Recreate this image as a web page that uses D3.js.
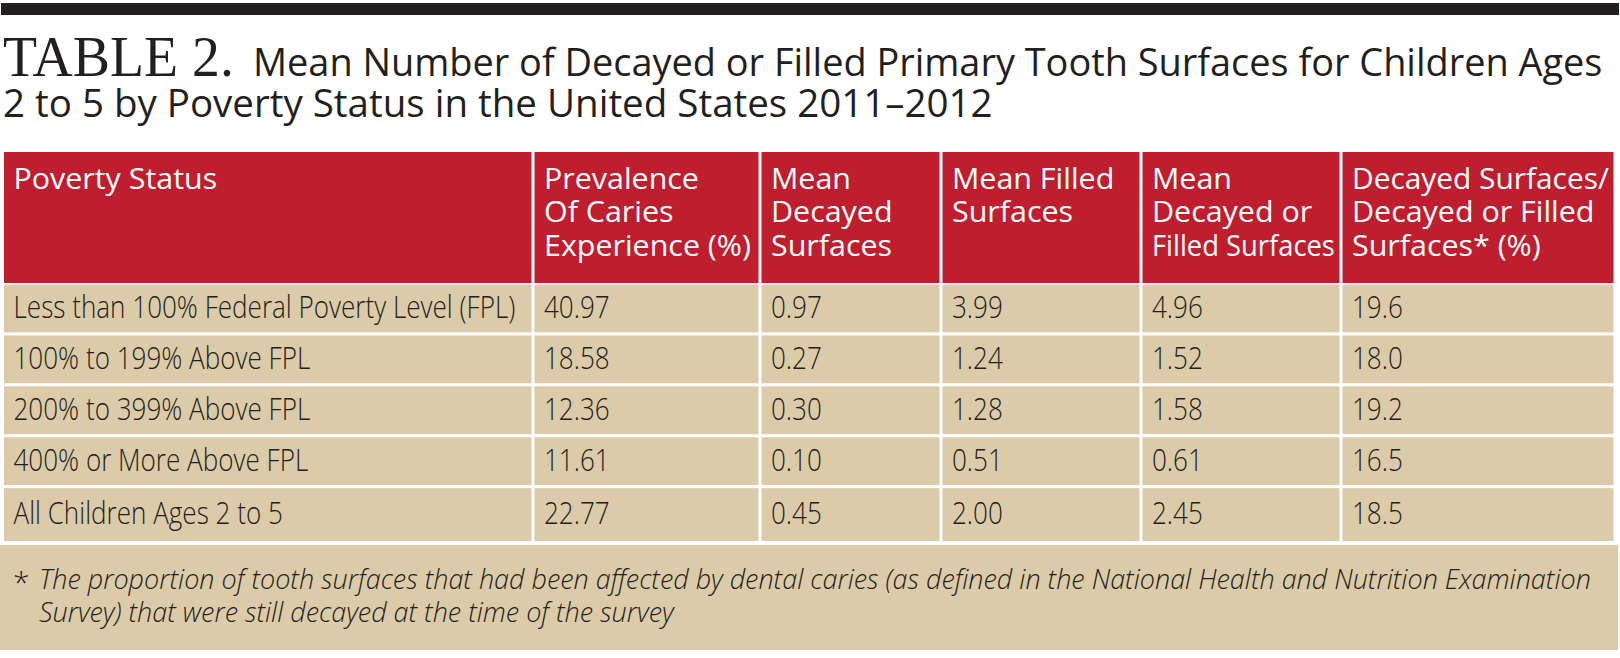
<!DOCTYPE html>
<html><head><meta charset="utf-8">
<script src="https://cdn.jsdelivr.net/npm/d3@7"></script>
<style>html,body{margin:0;padding:0;background:#fff;} svg{display:block;}</style>
</head><body>
<script>
// ---------- data ----------
const titleLabel = "TABLE 2.";
const subtitleLines = ["Mean Number of Decayed or Filled Primary Tooth Surfaces for Children Ages",
                       "2 to 5 by Poverty Status in the United States 2011\u20132012"];
const headerLines = [
  ["Poverty Status"],
  ["Prevalence", "Of Caries", "Experience (%)"],
  ["Mean", "Decayed", "Surfaces"],
  ["Mean Filled", "Surfaces"],
  ["Mean", "Decayed or", "Filled Surfaces"],
  ["Decayed Surfaces/", "Decayed or Filled", "Surfaces* (%)"]
];
const categories = ["Less than 100% Federal Poverty Level (FPL)", "100% to 199% Above FPL",
                    "200% to 399% Above FPL", "400% or More Above FPL", "All Children Ages 2 to 5"];
const prevalence = [40.97, 18.58, 12.36, 11.61, 22.77];
const meanDecayed = [0.97, 0.27, 0.30, 0.10, 0.45];
const meanFilled = [3.99, 1.24, 1.28, 0.51, 2.00];
const meanDecayedOrFilled = [4.96, 1.52, 1.58, 0.61, 2.45];
const pctStillDecayed = [19.6, 18.0, 19.2, 16.5, 18.5];
const footnoteMark = "*";
const footnoteLines = ["The proportion of tooth surfaces that had been affected by dental caries (as defined in the National Health and Nutrition Examination",
                       "Survey) that were still decayed at the time of the survey"];

// ---------- layout ----------
const W = 1620, H = 658;
const colEdges = [4, 533, 760, 941, 1141, 1341, 1615];
const gap = 1.5;
const RED = "#be1e2e", BEIGE = "#dccba9", INK = "#231f20";
const sans = "'Open Sans','Noto Sans',sans-serif";

const svg = d3.select("body").append("svg").attr("width", W).attr("height", H);

const colIdx = d3.range(headerLines.length);
const xL = d3.scaleOrdinal().domain(colIdx).range(colEdges.slice(0, -1));
const xR = d3.scaleOrdinal().domain(colIdx).range(colEdges.slice(1));
const y = d3.scaleBand().domain(categories).range([284.5, 536]).paddingInner(0.06).paddingOuter(0);

function setScale(t, k) {
  t.attr("transform", `translate(${t.attr("data-x")},${t.attr("data-y")}) scale(${k},1)`);
}
function placeText(g, txt, x, yy, cls) {
  return g.append("text").attr("class", cls).attr("data-x", x).attr("data-y", yy).text(txt);
}
function fitGroup(sel, refNode, target, maxW) {
  const k = target / refNode.getComputedTextLength();
  sel.each(function() {
    const t = d3.select(this);
    const w = this.getComputedTextLength();
    const m = maxW ? maxW(t) : Infinity;
    setScale(t, Math.min(k, m / w));
  });
}

// top bar
svg.append("rect").attr("x", 1).attr("y", 3).attr("width", 1618).attr("height", 12).attr("fill", INK);

// title
const tg = svg.append("g");
const tt = placeText(tg, titleLabel, 3, 76, "title")
  .attr("font-family", "'Liberation Serif','DejaVu Serif',serif").attr("font-size", 56.5)
  .attr("fill", INK);
setScale(tt, 231 / tt.node().getComputedTextLength());
const st = subtitleLines.map((s, i) => placeText(tg, s, i === 0 ? 253 : 3, i === 0 ? 76 : 117, "sub")
  .attr("font-family", sans).attr("font-size", 37.5).attr("fill", INK));
setScale(st[0], 1350 / st[0].node().getComputedTextLength());
setScale(st[1], 990 / st[1].node().getComputedTextLength());

// header cells
svg.append("g").selectAll("rect").data(colIdx).join("rect")
  .attr("x", d => xL(d) + (d === 0 ? 0 : gap)).attr("y", 152)
  .attr("width", d => xR(d) - xL(d) - (d === 0 ? gap : 2 * gap)).attr("height", 131)
  .attr("fill", RED);

const hg = svg.append("g");
const headTexts = [];
headerLines.forEach((lines, c) => {
  lines.forEach((ln, j) => {
    headTexts.push(placeText(hg, ln, xL(c) + 9.5 + (c === 0 ? 0 : gap), 189 + j * 33.3, "head")
      .attr("data-c", c)
      .attr("font-family", sans).attr("font-size", 29.5).attr("fill", "#fff"));
  });
});
const headRef = headTexts.find(t => t.text() === "Experience (%)");
fitGroup(hg.selectAll("text"), headRef.node(), 207, t => {
  const c = +t.attr("data-c");
  return xR(c) - xL(c) - 17;
});

// body rows
const columnsData = [categories, prevalence.map(d3.format(".2f")), meanDecayed.map(d3.format(".2f")),
  meanFilled.map(d3.format(".2f")), meanDecayedOrFilled.map(d3.format(".2f")), pctStillDecayed.map(d3.format(".1f"))];
const last = categories[categories.length - 1];
const bodyG = svg.append("g");
categories.forEach((cat) => {
  colIdx.forEach(c => {
    bodyG.append("rect")
      .attr("x", xL(c) + (c === 0 ? 0 : gap)).attr("y", y(cat))
      .attr("width", xR(c) - xL(c) - (c === 0 ? gap : 2 * gap))
      .attr("height", y.bandwidth() + (cat === last ? 5 : 0))
      .attr("fill", BEIGE);
  });
});
const bt = svg.append("g");
categories.forEach((cat, r) => {
  colIdx.forEach(c => {
    placeText(bt, columnsData[c][r], xL(c) + 9.5 + (c === 0 ? 0 : gap),
      y(cat) + 33.5 + (cat === last ? 2 : 0), "body")
      .attr("font-family", sans).attr("font-weight", 300).attr("font-size", 30.5).attr("fill", INK);
  });
});
const bodyRef = bt.selectAll("text").filter(function() { return d3.select(this).text() === categories[0]; });
fitGroup(bt.selectAll("text"), bodyRef.node(), 502);

// footnote
svg.append("rect").attr("x", 0).attr("y", 545).attr("width", 1618).attr("height", 105).attr("fill", BEIGE);
const fg = svg.append("g");
const star = placeText(fg, footnoteMark, 13, 593, "fn").attr("font-family", sans).attr("font-size", 30)
  .attr("fill", INK).attr("font-weight", 300);
setScale(star, 1);
const fl = footnoteLines.map((s, i) => placeText(fg, s, 39, 589 + i * 33, "fn")
  .attr("font-family", sans).attr("font-style", "italic").attr("font-weight", 300)
  .attr("font-size", 27).attr("fill", INK));
const fk = 1553 / fl[0].node().getComputedTextLength();
fl.forEach(t => setScale(t, fk));
</script>
</body></html>
